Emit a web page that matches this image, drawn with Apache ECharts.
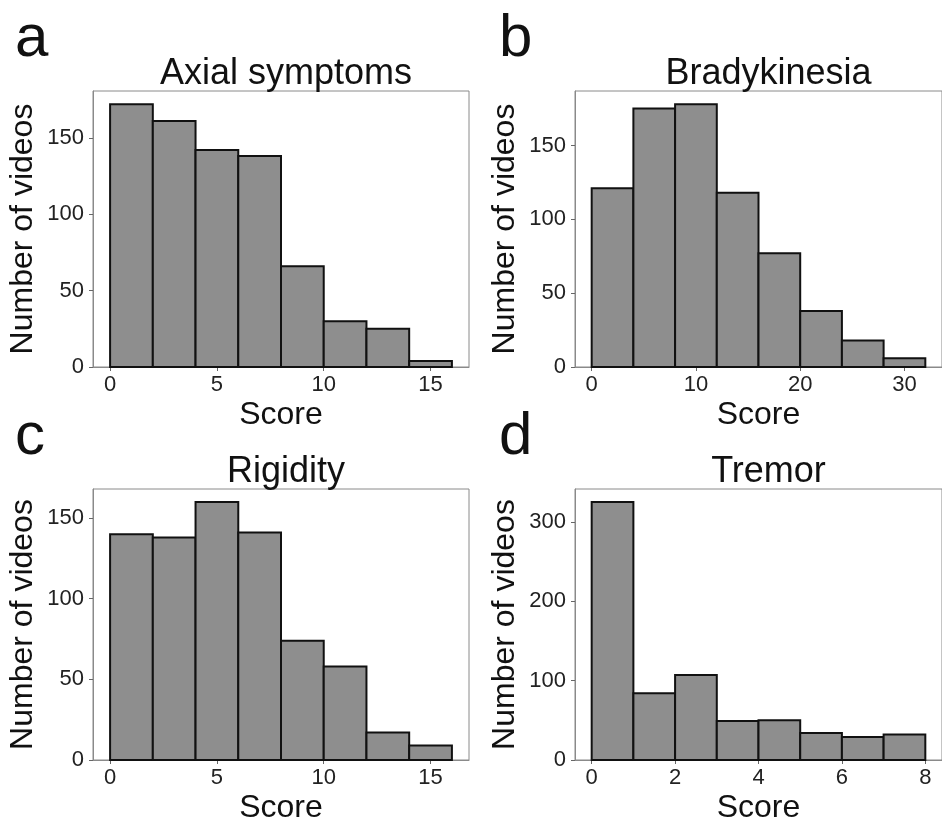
<!DOCTYPE html>
<html>
<head>
<meta charset="utf-8">
<title>Score histograms</title>
<script src="https://cdn.jsdelivr.net/npm/echarts@6/dist/echarts.min.js"></script>
<style>
html, body { margin: 0; padding: 0; background: #fff; }
#main { width: 942px; height: 825px; }
</style>
</head>
<body>
<div id="main"></div>
<script>
// bin edges and counts per panel
var axialEdges = [0, 2, 4, 6, 8, 10, 12, 14, 16];
var axialCounts = [172, 161, 142, 138, 66, 30, 25, 4];
var bradyEdges = [0, 4, 8, 12, 16, 20, 24, 28, 32];
var bradyCounts = [121, 175, 178, 118, 77, 38, 18, 6];
var rigidEdges = [0, 2, 4, 6, 8, 10, 12, 14, 16];
var rigidCounts = [140, 138, 160, 141, 74, 58, 17, 9];
var tremorEdges = [0, 1, 2, 3, 4, 5, 6, 7, 8];
var tremorCounts = [325, 84, 107, 49, 50, 34, 29, 32];

var panelTitles = ['Axial symptoms', 'Bradykinesia', 'Rigidity', 'Tremor'];
var panelLetters = ['a', 'b', 'c', 'd'];
var xTicks = [[0, 5, 10, 15], [0, 10, 20, 30], [0, 5, 10, 15], [0, 2, 4, 6, 8]];
var yTicks = [[0, 50, 100, 150], [0, 50, 100, 150], [0, 50, 100, 150], [0, 100, 200, 300]];

var FONT = "'Liberation Sans', Arial, sans-serif";

function binData(edges, counts) {
	var out = [];
	for (var i = 0; i < counts.length; i++) {
		out.push([edges[i], edges[i + 1], counts[i]]);
	}
	return out;
}

function renderBin(params, api) {
	var p0 = api.coord([api.value(0), 0]);
	var p1 = api.coord([api.value(1), api.value(2)]);
	return {
		type : 'rect',
		shape : {
			x : p0[0],
			y : p1[1],
			width : p1[0] - p0[0],
			height : p0[1] - p1[1]
		},
		style : {
			fill : '#8e8e8e',
			stroke : '#111',
			lineWidth : 2
		}
	};
}

var panels = [
	{ edges : axialEdges, counts : axialCounts },
	{ edges : bradyEdges, counts : bradyCounts },
	{ edges : rigidEdges, counts : rigidCounts },
	{ edges : tremorEdges, counts : tremorCounts }
];

// pixel layout of the four plot frames
var gridPos = [
	{ left : 93, top : 91, width : 376, height : 276 },
	{ left : 575, top : 91, width : 377, height : 276 },
	{ left : 93, top : 489, width : 376, height : 276 },
	{ left : 575, top : 489, width : 377, height : 276 }
];

var grids = [], xAxes = [], yAxes = [], series = [], titles = [];
for (var k = 0; k < panels.length; k++) {
	var edges = panels[k].edges;
	var lo = edges[0], hi = edges[edges.length - 1];
	var pad = (hi - lo) * 0.05;
	var ymax = Math.max.apply(null, panels[k].counts) * 1.05;
	var g = gridPos[k];
	grids.push({
		left : g.left,
		top : g.top,
		width : g.width,
		height : g.height,
		show : true,
		borderColor : '#8a8a8a',
		borderWidth : 1,
		backgroundColor : '#fff'
	});
	xAxes.push({
		type : 'value',
		gridIndex : k,
		min : lo - pad,
		max : hi + pad,
		name : 'Score',
		nameLocation : 'middle',
		nameGap : 32,
		nameTextStyle : { fontSize : 32, color : '#111', fontFamily : FONT },
		splitLine : { show : false },
		axisLine : { show : true, onZero : false, lineStyle : { color : '#8a8a8a', width : 1 } },
		axisTick : { show : true, length : 4, customValues : xTicks[k], lineStyle : { color : '#666' } },
		axisLabel : { customValues : xTicks[k], fontSize : 22, color : '#222', margin : 7, fontFamily : FONT }
	});
	yAxes.push({
		type : 'value',
		gridIndex : k,
		min : 0,
		max : ymax,
		name : 'Number of videos',
		nameLocation : 'middle',
		nameRotate : 90,
		nameGap : 54,
		nameTextStyle : { fontSize : 32, color : '#111', fontFamily : FONT },
		splitLine : { show : false },
		axisLine : { show : true, onZero : false, lineStyle : { color : '#8a8a8a', width : 1 } },
		axisTick : { show : true, length : 4, customValues : yTicks[k], lineStyle : { color : '#666' } },
		axisLabel : { customValues : yTicks[k], fontSize : 22, color : '#222', margin : 9, fontFamily : FONT }
	});
	series.push({
		type : 'custom',
		xAxisIndex : k,
		yAxisIndex : k,
		renderItem : renderBin,
		encode : { x : [0, 1], y : 2 },
		data : binData(edges, panels[k].counts),
		silent : true
	});
	titles.push({
		text : panelTitles[k],
		left : g.left + g.width / 2,
		top : g.top - 40,
		textAlign : 'center',
		textStyle : { fontSize : 36, fontWeight : 'normal', color : '#111', fontFamily : FONT }
	});
	titles.push({
		text : panelLetters[k],
		left : (k % 2 === 0) ? 10 : 494,
		top : g.top - 87,
		textStyle : { fontSize : 60, fontWeight : 'normal', color : '#111', fontFamily : FONT }
	});
}

var myChart = echarts.init(document.getElementById('main'));
var option = {
	backgroundColor : '#fff',
	animation : false,
	title : titles,
	grid : grids,
	xAxis : xAxes,
	yAxis : yAxes,
	series : series
};
myChart.setOption(option);
</script>
</body>
</html>
